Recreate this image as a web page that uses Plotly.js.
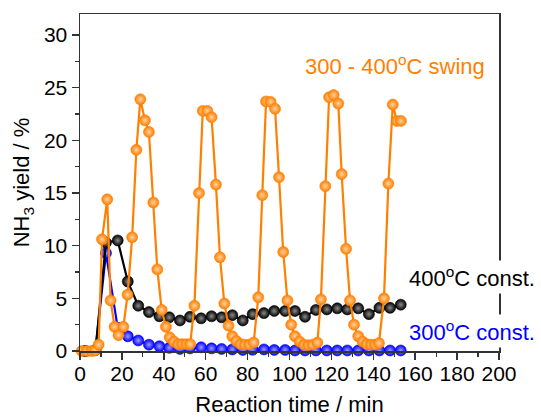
<!DOCTYPE html>
<html>
<head>
<meta charset="utf-8">
<script src="https://cdn.plot.ly/plotly-3.0.1.min.js"></script>
<style>html,body{margin:0;padding:0;background:#fff}#chart{width:541px;height:417px}</style>
</head>
<body>
<div id="chart"></div>
<script>
// Reaction time (min) and NH3 yield (%)
const constTime = [2.5, 7.4, 12.4, 18.0, 22.8, 27.8, 32.9, 37.9, 42.6, 47.7, 52.5, 57.8, 62.8, 67.6, 72.7, 77.7, 82.4, 87.8, 92.7, 97.9, 102.6, 107.4, 112.6, 117.8, 122.8, 127.6, 132.8, 137.9, 142.9, 148.0, 153.1];
const yield400 = [0, 0.1, 10.3, 10.5, 6.6, 4.3, 3.7, 3.3, 3.2, 2.9, 3.25, 3.1, 3.3, 3.2, 3.4, 2.9, 3.5, 3.6, 3.8, 3.8, 3.8, 3.25, 3.9, 3.95, 4.05, 3.95, 4.05, 3.5, 4.1, 4.1, 4.4];
const yield300 = [0, 0.1, 9.3, 2.2, 1.4, 1.0, 0.6, 0.45, 0.3, 0.2, 0.25, 0.35, 0.25, 0.2, 0.15, 0.1, 0.12, 0.15, 0.1, 0.1, 0.05, 0.05, 0.05, 0.05, 0.05, 0.05, 0.05, 0.05, 0.05, 0.05, 0.05];
const swingTime = [0.8, 3.2, 5.6, 7.2, 8.9, 10.5, 13.0, 14.6, 16.5, 18.4, 20.7, 22.7, 24.9, 26.9, 28.8, 31.0, 32.9, 35.0, 36.9, 39.0, 41.0, 42.8, 44.8, 46.8, 48.8, 50.8, 52.6, 54.6, 56.8, 58.6, 60.8, 62.8, 64.9, 66.8, 68.9, 70.9, 72.7, 74.6, 76.6, 78.7, 80.8, 82.9, 85.1, 87.0, 88.8, 91.0, 93.1, 95.0, 97.0, 99.0, 100.8, 102.6, 104.8, 106.9, 109.0, 111.0, 113.3, 115.0, 117.1, 118.9, 121.1, 123.3, 124.9, 127.0, 128.9, 130.8, 132.8, 134.9, 136.8, 138.9, 140.8, 142.7, 145.1, 147.2, 149.3, 151.2, 153.2];
const yieldSwing = [0, 0, 0, 0.05, 0.6, 10.6, 14.4, 4.8, 2.3, 1.5, 2.3, 5.35, 10.8, 19.1, 23.9, 21.9, 20.8, 14.1, 7.75, 3.9, 2.3, 1.3, 0.9, 0.65, 0.65, 0.65, 0.65, 4.3, 15.0, 22.8, 22.8, 22.2, 15.8, 8.9, 4.5, 2.4, 1.4, 0.95, 0.65, 0.6, 0.6, 0.8, 5.1, 14.8, 23.7, 23.65, 23.0, 16.5, 9.4, 4.8, 2.5, 1.4, 0.9, 0.6, 0.55, 0.6, 0.8, 4.9, 15.65, 24.1, 24.3, 23.5, 16.8, 9.7, 4.8, 2.5, 1.4, 0.9, 0.65, 0.6, 0.6, 0.75, 5.0, 15.9, 23.4, 21.85, 21.85];
const xTicks = [0, 20, 40, 60, 80, 100, 120, 140, 160, 180, 200];
const yTicks = [0, 5, 10, 15, 20, 25, 30];

const FONT = 'Liberation Sans, Arial, sans-serif';
function series(x, y, col, light) {
  return {
    x: x, y: y, type: 'scatter', mode: 'lines+markers', cliponaxis: false,
    line: {color: col, width: 2.2},
    marker: {size: 11, color: col, gradient: {type: 'radial', color: light}, line: {width: 0.6, color: col}},
    showlegend: false
  };
}
const data = [
  series(constTime, yield300, '#0000ff', '#9a9aff'),
  series(constTime, yield400, '#000000', '#8a8a8a'),
  series(swingTime, yieldSwing, '#ff7f00', '#ffd2a0')
];
const axisCommon = {
  showgrid: false, zeroline: false, showline: true, linecolor: '#333', linewidth: 1.5,
  mirror: true, ticks: 'outside', ticklen: 7, tickwidth: 1.5, tickcolor: '#333',
  tickfont: {family: FONT, size: 21, color: '#000'},
  minor: {ticks: 'outside', ticklen: 4, tickwidth: 1.2, tickcolor: '#333'}
};
const layout = {
  width: 541, height: 417,
  margin: {l: 80, r: 42, t: 14, b: 66},
  paper_bgcolor: '#fff', plot_bgcolor: '#fff',
  font: {family: FONT},
  xaxis: Object.assign({}, axisCommon, {
    range: [0, 200], tickvals: xTicks, ticktext: xTicks.map(String),
    ticklabelstandoff: -4,
    minor: Object.assign({}, axisCommon.minor, {dtick: 10, tick0: 0}),
    title: {text: 'Reaction time / min', font: {family: FONT, size: 22, color: '#000'}, standoff: 16}
  }),
  yaxis: Object.assign({}, axisCommon, {
    range: [0, 32], tickvals: yTicks, ticktext: yTicks.map(String),
    minor: Object.assign({}, axisCommon.minor, {dtick: 2.5, tick0: 0}),
    title: {text: 'NH<sub>3</sub> yield / %', font: {family: FONT, size: 22, color: '#000'}, standoff: 8}
  }),
  annotations: [
    {text: '300 - 400<sup>o</sup>C swing', x: 194.3, y: 27.2, xref: 'x', yref: 'y', xanchor: 'right', yanchor: 'middle', showarrow: false, font: {family: FONT, size: 22, color: '#ff7f00'}},
    {text: '400<sup>o</sup>C const.', x: 1.093, y: 0.219, xref: 'paper', yref: 'paper', xanchor: 'right', yanchor: 'middle', showarrow: false, bgcolor: '#fff', borderpad: 2, font: {family: FONT, size: 22, color: '#000'}},
    {text: '300<sup>o</sup>C const.', x: 1.093, y: 0.059, xref: 'paper', yref: 'paper', xanchor: 'right', yanchor: 'middle', showarrow: false, bgcolor: '#fff', borderpad: 2, font: {family: FONT, size: 22, color: '#0000ff'}}
  ]
};
Plotly.newPlot('chart', data, layout, {staticPlot: true, displayModeBar: false});
</script>
</body>
</html>
